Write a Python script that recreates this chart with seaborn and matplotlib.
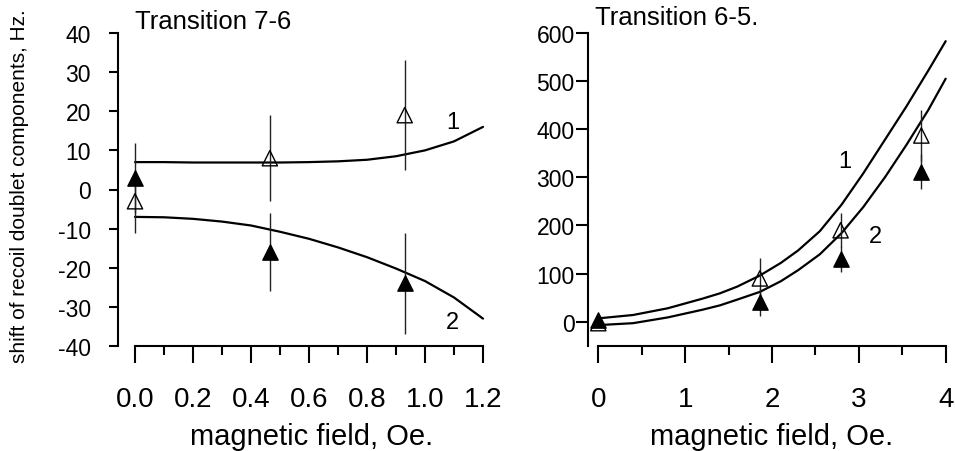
import matplotlib
matplotlib.use("Agg")
import matplotlib.pyplot as plt
from matplotlib.ticker import FixedLocator, MultipleLocator, FormatStrFormatter
import seaborn as sns

# ---- Transition 7-6: measured shifts (Hz) vs magnetic field (Oe) ----
field_76 = [0.0, 0.465, 0.93]
open_76 = [-3, 8, 19]
open_76_err = [8, 11, 14]
filled_76 = [3, -16, -24]
filled_76_err = [9, 10, 13]

# calculated curves 1 and 2
curve_field_76 = [0.0, 0.1, 0.2, 0.3, 0.4, 0.5, 0.6, 0.7, 0.8, 0.9, 1.0, 1.1, 1.2]
curve1_76 = [7.0, 7.0, 6.9, 6.9, 6.9, 6.9, 7.0, 7.2, 7.6, 8.5, 10.0, 12.3, 16.0]
curve2_76 = [-7.0, -7.1, -7.5, -8.2, -9.2, -10.8, -12.6, -14.8, -17.3, -20.2, -23.4, -27.6, -33.0]

# ---- Transition 6-5 ----
field_65 = [0.0, 1.86, 2.79, 3.72]
open_65 = [-3, 90, 190, 387]
open_65_err = [8, 42, 35, 53]
filled_65 = [3, 41, 130, 312]
filled_65_err = [9, 29, 27, 37]

curve_field_65 = [0.0, 0.4, 0.8, 1.2, 1.4, 1.6, 1.86, 2.1, 2.3, 2.55, 2.8, 3.05, 3.3, 3.55, 3.8, 4.0]
curve1_65 = [7, 14, 28, 48, 59, 73, 96, 122, 148, 188, 243, 308, 378, 448, 522, 583]
curve2_65 = [-7, -3, 9, 25, 34, 46, 62, 84, 107, 140, 184, 238, 300, 368, 440, 505]

sns.set_theme(style="ticks")
plt.rcParams["font.family"] = ["Liberation Sans", "DejaVu Sans"]
plt.rcParams["axes.linewidth"] = 1.5
plt.rcParams["axes.edgecolor"] = "black"
plt.rcParams["xtick.color"] = "black"
plt.rcParams["ytick.color"] = "black"
plt.rcParams["text.color"] = "black"
plt.rcParams["axes.labelcolor"] = "black"

W, H = 955, 452
fig = plt.figure(figsize=(W / 100, H / 100), dpi=100)
ax1 = fig.add_axes([118 / W, 1 - 347 / H, (485.9 - 118) / W, 313 / H])
ax2 = fig.add_axes([587.7 / W, 1 - 346.8 / H, (947.4 - 587.7) / W, 312.8 / H])


def draw_panel(ax, field, op, op_err, fi, fi_err, cx, c1, c2):
    for cy in (c1, c2):
        sns.lineplot(x=cx, y=cy, ax=ax, color="black", linewidth=1.6,
                     estimator=None, sort=False, clip_on=False, zorder=2)
    ax.errorbar(field, op, yerr=op_err, fmt="none", ecolor="#222222",
                elinewidth=1.0, capsize=0, zorder=3, clip_on=False)
    ax.errorbar(field, fi, yerr=fi_err, fmt="none", ecolor="#222222",
                elinewidth=1.0, capsize=0, zorder=3, clip_on=False)
    sns.scatterplot(x=field, y=op, ax=ax, marker="^", s=121,
                    facecolor="none", edgecolor="black", linewidth=1.0,
                    zorder=4, clip_on=False)
    sns.scatterplot(x=field, y=fi, ax=ax, marker="^", s=121,
                    color="black", edgecolor="black", linewidth=1.0,
                    zorder=5, clip_on=False)
    for side in ("top", "right"):
        ax.spines[side].set_visible(False)


draw_panel(ax1, field_76, open_76, open_76_err, filled_76, filled_76_err,
           curve_field_76, curve1_76, curve2_76)
draw_panel(ax2, field_65, open_65, open_65_err, filled_65, filled_65_err,
           curve_field_65, curve1_65, curve2_65)

# left panel axes
ax1.set_xlim(-17 / 290, 1.21)
ax1.set_ylim(-40, 40)
ax1.spines["bottom"].set_bounds(0, 1.2)
ax1.spines["left"].set_bounds(-40, 40)
ax1.xaxis.set_major_locator(FixedLocator([0, 0.2, 0.4, 0.6, 0.8, 1.0, 1.2]))
ax1.xaxis.set_minor_locator(FixedLocator([0.1, 0.3, 0.5, 0.7, 0.9, 1.1]))
ax1.xaxis.set_major_formatter(FormatStrFormatter("%.1f"))
ax1.yaxis.set_major_locator(MultipleLocator(10))
ax1.yaxis.set_major_formatter(FormatStrFormatter("%d"))
ax1.tick_params(axis="y", direction="out", length=6.5, width=1.5, pad=13, labelsize=16.5)
ax1.tick_params(axis="x", which="major", direction="out", length=12, width=1.5, pad=17, labelsize=20)
ax1.tick_params(axis="x", which="minor", direction="out", length=6.5, width=1.5)

# right panel axes
ax2.set_xlim(-10.6 / 86.85, 4.02)
ax2.set_ylim(-50, 600)
ax2.spines["bottom"].set_bounds(0, 4)
ax2.spines["left"].set_bounds(-50, 600)
ax2.xaxis.set_major_locator(FixedLocator([0, 1, 2, 3, 4]))
ax2.xaxis.set_minor_locator(FixedLocator([0.5, 1.5, 2.5, 3.5]))
ax2.xaxis.set_major_formatter(FormatStrFormatter("%d"))
ax2.yaxis.set_major_locator(FixedLocator([0, 100, 200, 300, 400, 500, 600]))
ax2.yaxis.set_major_formatter(FormatStrFormatter("%d"))
ax2.tick_params(axis="y", direction="out", length=8.3, width=1.5, pad=1, labelsize=16.5)
ax2.tick_params(axis="x", which="major", direction="out", length=12, width=1.5, pad=17, labelsize=20)
ax2.tick_params(axis="x", which="minor", direction="out", length=6.5, width=1.5)

# labels
ax1.set_ylabel("shift of recoil doublet components, Hz.", fontsize=15)
ax1.yaxis.set_label_coords(-0.241, 0.513)
ax1.set_xlabel("magnetic field, Oe.", fontsize=21)
ax1.xaxis.set_label_coords(0.525, -0.243)
ax2.set_ylabel("")
ax2.set_xlabel("magnetic field, Oe.", fontsize=21)
ax2.xaxis.set_label_coords(0.512, -0.243)

ax1.text(0, 1.016, "Transition 7-6", transform=ax1.get_xaxis_transform(),
         ha="left", va="baseline", fontsize=18.5)
ax2.text(-0.04, 1.029, "Transition 6-5.", transform=ax2.get_xaxis_transform(),
         ha="left", va="baseline", fontsize=18.5)

ax1.text(1.097, 17.3, "1", ha="center", va="center", fontsize=17)
ax1.text(1.093, -33.9, "2", ha="center", va="center", fontsize=17)
ax2.text(2.84, 334.7, "1", ha="center", va="center", fontsize=17)
ax2.text(3.186, 177.5, "2", ha="center", va="center", fontsize=17)

fig.savefig("out.png", dpi=100)
